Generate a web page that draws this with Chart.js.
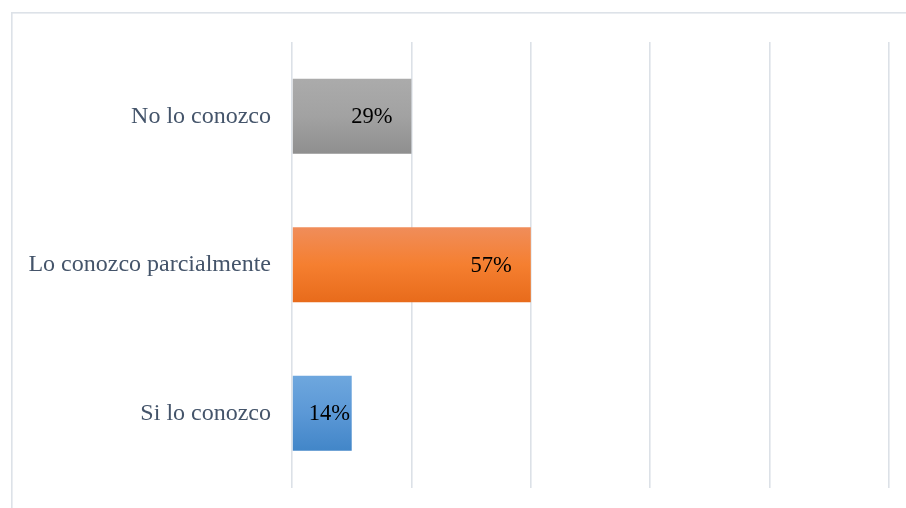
<!DOCTYPE html>
<html>
<head>
<meta charset="utf-8">
<script src="https://cdn.jsdelivr.net/npm/chart.js@4.4.1/dist/chart.umd.min.js"></script>
<style>
  html, body { margin: 0; padding: 0; background: #ffffff; }
  #wrap { width: 906px; height: 508px; position: relative; }
</style>
</head>
<body>
<div id="wrap"><canvas id="chart" width="906" height="508"></canvas></div>
<script>
// Survey answers (percent of respondents)
const categories = ['No lo conozco', 'Lo conozco parcialmente', 'Si lo conozco'];
const percentages = [28.57, 57.14, 14.29];
// Vertical grid positions along the value axis
const gridValues = [0, 28.57, 57.14, 85.71, 114.29, 142.86];

// Top/middle/bottom gradient stops for each bar
const gradientStops = [
  ['#ababab', '#a2a2a2', '#8f8f8f'],
  ['#f08d5a', '#f57f30', '#e86b1b'],
  ['#6ea7de', '#5b98d6', '#4286c8']
];

const BAR_FRACTION = 0.505;

function barGradient(context) {
  const chart = context.chart;
  const yScale = chart.scales.y;
  const i = context.dataIndex;
  if (!yScale || !chart.chartArea || i === undefined) return gradientStops[0][1];
  const center = yScale.getPixelForValue(i);
  const half = (chart.chartArea.height / categories.length) * BAR_FRACTION / 2;
  const g = chart.ctx.createLinearGradient(0, center - half, 0, center + half);
  const s = gradientStops[i];
  g.addColorStop(0, s[0]);
  g.addColorStop(0.5, s[1]);
  g.addColorStop(1, s[2]);
  return g;
}

// Light frame around the chart
const framePlugin = {
  id: 'frame',
  beforeDraw(chart) {
    const ctx = chart.ctx;
    ctx.save();
    ctx.strokeStyle = '#dde2e8';
    ctx.lineWidth = 1.6;
    ctx.strokeRect(11.8, 12.8, 1000, 1000);
    ctx.restore();
  }
};

// Percentage labels drawn inside the end of each bar
const valueLabelPlugin = {
  id: 'valueLabels',
  afterDatasetsDraw(chart) {
    const ctx = chart.ctx;
    const meta = chart.getDatasetMeta(0);
    ctx.save();
    ctx.font = '22.5px "Liberation Serif", "Times New Roman", serif';
    ctx.fillStyle = '#000000';
    ctx.textAlign = 'right';
    ctx.textBaseline = 'middle';
    meta.data.forEach((bar, i) => {
      const text = Math.round(percentages[i]) + '%';
      const w = ctx.measureText(text).width;
      const right = Math.max(bar.x - 19, bar.base + 16 + w);
      ctx.fillText(text, right, bar.y + 1);
    });
    ctx.restore();
  }
};

new Chart(document.getElementById('chart'), {
  type: 'bar',
  data: {
    labels: categories,
    datasets: [{
      data: percentages,
      backgroundColor: barGradient,
      borderWidth: 0,
      categoryPercentage: 1,
      barPercentage: BAR_FRACTION
    }]
  },
  options: {
    indexAxis: 'y',
    responsive: false,
    animation: false,
    layout: { padding: { left: 0, right: 17, top: 42, bottom: 20.5 } },
    plugins: {
      legend: { display: false },
      tooltip: { enabled: false }
    },
    scales: {
      x: {
        min: 0,
        max: 142.86,
        afterBuildTicks(scale) { scale.ticks = gridValues.map(v => ({ value: v })); },
        afterFit(scale) { scale.height = 0; },
        ticks: { display: false },
        grid: { color: '#dce1e7', lineWidth: 1.6, drawTicks: false },
        border: { display: false }
      },
      y: {
        afterFit(scale) {
          scale.width = 292;
          scale.paddingTop = 0;
          scale.paddingBottom = 0;
        },
        grid: { display: false, drawTicks: false },
        border: { display: false },
        ticks: {
          padding: 21,
          color: '#44546a',
          font: { family: '"Liberation Serif", "Times New Roman", serif', size: 24 }
        }
      }
    }
  },
  plugins: [framePlugin, valueLabelPlugin]
});
</script>
</body>
</html>
